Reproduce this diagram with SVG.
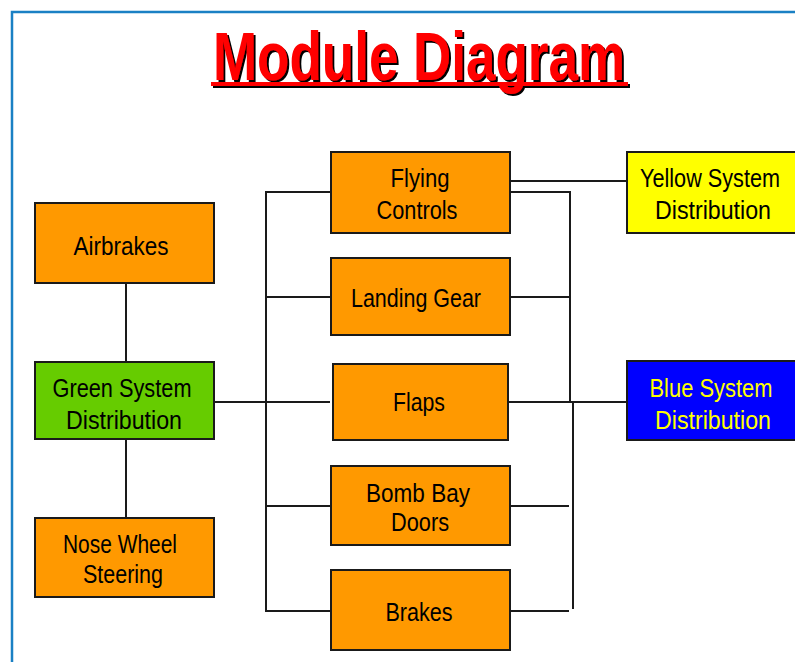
<svg xmlns="http://www.w3.org/2000/svg" width="795" height="662" viewBox="0 0 795 662">
  <defs>
    <filter id="hard-shadow" x="-5%" y="-10%" width="110%" height="130%">
      <feDropShadow dx="2" dy="2" stdDeviation="0" flood-color="#000" flood-opacity="1"/>
    </filter>
  </defs>
  <style>
    .box { stroke: #1a1a1a; stroke-width: 2; }
    .orange { fill: #ff9900; }
    .green { fill: #66cc00; }
    .yellow { fill: #ffff00; }
    .blue { fill: #0000ff; }
    .lbl { font-family: "Liberation Sans", Arial, sans-serif; font-size: 25px; fill: #000; text-anchor: middle; }
    .lbl-y { fill: #ffff00; }
    .wire { stroke: #1a1a1a; stroke-width: 2; fill: none; }
    .title { font-family: "Liberation Sans", Arial, sans-serif; font-weight: bold; font-size: 69px; fill: #ff0000; }
  </style>

  <rect width="795" height="662" fill="#ffffff"/>

  <!-- page frame -->
  <path d="M12,662 V12 H795" fill="none" stroke="#1a80c4" stroke-width="2.5"/>

  <!-- title with hard drop shadow and underline -->
  <g id="title" filter="url(#hard-shadow)">
    <text class="title" x="213" y="80" textLength="412" lengthAdjust="spacingAndGlyphs">Module Diagram</text>
    <rect x="211" y="82" width="417" height="4" fill="#ff0000"/>
  </g>

  <!-- connectors -->
  <g id="connectors" class="wire">
    <line x1="126" y1="283" x2="126" y2="362"/>
    <line x1="126" y1="439" x2="126" y2="518"/>
    <line x1="214" y1="402" x2="330" y2="402"/>
    <path d="M331,192 H266 V611 H331"/>
    <line x1="266" y1="297" x2="331" y2="297"/>
    <line x1="266" y1="506" x2="331" y2="506"/>
    <line x1="510" y1="181" x2="627" y2="181"/>
    <path d="M510,192 H570 V402"/>
    <line x1="510" y1="297" x2="570" y2="297"/>
    <line x1="508" y1="402" x2="627" y2="402"/>
    <line x1="573" y1="402" x2="573" y2="609"/>
    <line x1="510" y1="506" x2="569" y2="506"/>
    <line x1="510" y1="611" x2="569" y2="611"/>
  </g>

  <g id="airbrakes">
    <rect class="box orange" x="35" y="203" width="179" height="80"/>
    <text class="lbl" x="121" y="255" textLength="95" lengthAdjust="spacingAndGlyphs">Airbrakes</text>
  </g>

  <g id="green-system">
    <rect class="box green" x="35" y="362" width="179" height="77"/>
    <text class="lbl" x="122" y="397" textLength="139" lengthAdjust="spacingAndGlyphs">Green System</text>
    <text class="lbl" x="124" y="429" textLength="116" lengthAdjust="spacingAndGlyphs">Distribution</text>
  </g>

  <g id="nose-wheel">
    <rect class="box orange" x="35" y="518" width="179" height="79"/>
    <text class="lbl" x="120" y="553" textLength="114" lengthAdjust="spacingAndGlyphs">Nose Wheel</text>
    <text class="lbl" x="123" y="583" textLength="80" lengthAdjust="spacingAndGlyphs">Steering</text>
  </g>

  <g id="flying-controls">
    <rect class="box orange" x="331" y="152" width="179" height="81"/>
    <text class="lbl" x="420" y="187" textLength="59" lengthAdjust="spacingAndGlyphs">Flying</text>
    <text class="lbl" x="417" y="219" textLength="81" lengthAdjust="spacingAndGlyphs">Controls</text>
  </g>

  <g id="landing-gear">
    <rect class="box orange" x="331" y="258" width="179" height="77"/>
    <text class="lbl" x="416" y="307" textLength="130" lengthAdjust="spacingAndGlyphs">Landing Gear</text>
  </g>

  <g id="flaps">
    <rect class="box orange" x="333" y="364" width="175" height="76"/>
    <text class="lbl" x="419" y="411" textLength="52" lengthAdjust="spacingAndGlyphs">Flaps</text>
  </g>

  <g id="bomb-bay-doors">
    <rect class="box orange" x="331" y="466" width="179" height="79"/>
    <text class="lbl" x="418" y="502" textLength="104" lengthAdjust="spacingAndGlyphs">Bomb Bay</text>
    <text class="lbl" x="420" y="531" textLength="58" lengthAdjust="spacingAndGlyphs">Doors</text>
  </g>

  <g id="brakes">
    <rect class="box orange" x="331" y="570" width="179" height="80"/>
    <text class="lbl" x="419" y="621" textLength="67" lengthAdjust="spacingAndGlyphs">Brakes</text>
  </g>

  <g id="yellow-system">
    <rect class="box yellow" x="627" y="152" width="170" height="81"/>
    <text class="lbl" x="710" y="187" textLength="140" lengthAdjust="spacingAndGlyphs">Yellow System</text>
    <text class="lbl" x="713" y="219" textLength="116" lengthAdjust="spacingAndGlyphs">Distribution</text>
  </g>

  <g id="blue-system">
    <rect class="box blue" x="627" y="361" width="170" height="79"/>
    <text class="lbl lbl-y" x="711" y="397" textLength="123" lengthAdjust="spacingAndGlyphs">Blue System</text>
    <text class="lbl lbl-y" x="713" y="429" textLength="116" lengthAdjust="spacingAndGlyphs">Distribution</text>
  </g>
</svg>
